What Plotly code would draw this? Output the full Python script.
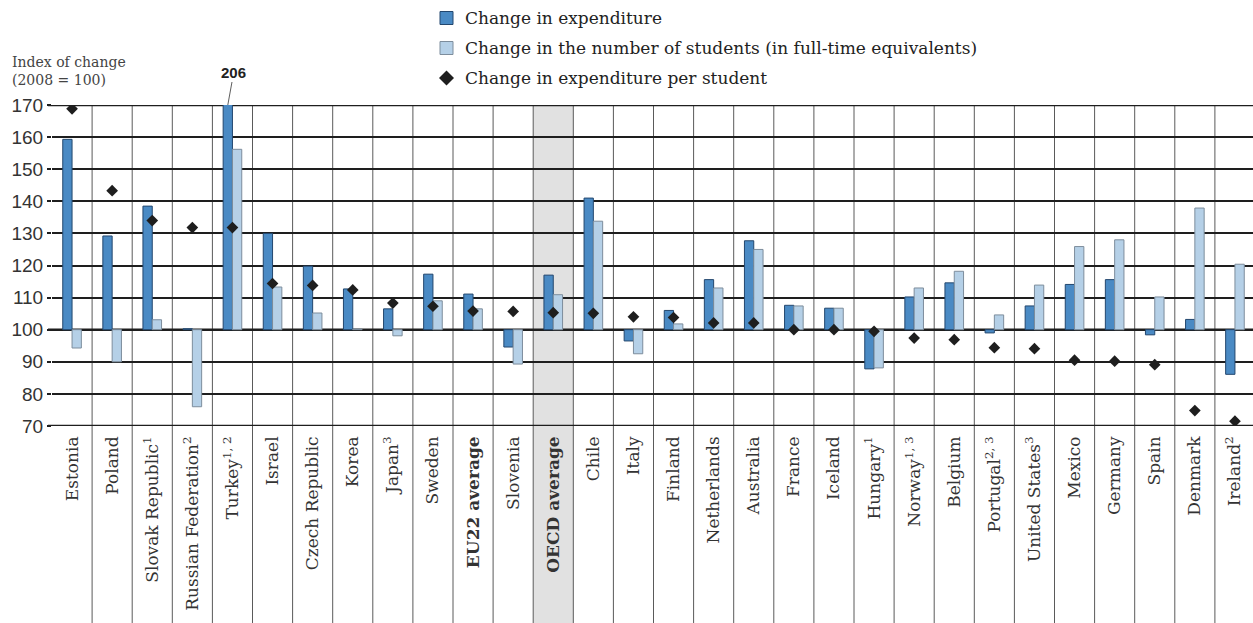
import plotly.graph_objects as go

# Countries / aggregates on the horizontal axis
countries = [
    "Estonia", "Poland", "Slovak Republic<sup>1</sup>", "Russian Federation<sup>2</sup>",
    "Turkey<sup>1, 2</sup>", "Israel", "Czech Republic", "Korea", "Japan<sup>3</sup>",
    "Sweden", "<b>EU22 average</b>", "Slovenia", "<b>OECD average</b>", "Chile", "Italy",
    "Finland", "Netherlands", "Australia", "France", "Iceland", "Hungary<sup>1</sup>",
    "Norway<sup>1, 3</sup>", "Belgium", "Portugal<sup>2, 3</sup>", "United States<sup>3</sup>",
    "Mexico", "Germany", "Spain", "Denmark", "Ireland<sup>2</sup>",
]

# Index of change, 2008 = 100
expenditure = [159.3, 129.2, 138.5, 100.3, 206.0, 130.0, 119.8, 112.7, 106.5, 117.3,
               111.1, 94.6, 117.0, 141.0, 96.5, 106.0, 115.6, 127.7, 107.6, 106.7,
               87.8, 110.2, 114.6, 99.0, 107.4, 114.1, 115.6, 98.4, 103.2, 86.1]
students = [94.3, 90.0, 103.1, 76.0, 156.2, 113.3, 105.2, 100.2, 98.1, 109.0,
            106.5, 89.3, 110.9, 133.8, 92.5, 101.8, 113.0, 125.0, 107.4, 106.7,
            88.1, 113.0, 118.2, 104.6, 113.9, 125.9, 128.0, 110.2, 137.9, 120.4]
per_student = [168.8, 143.3, 134.0, 131.8, 131.8, 114.4, 113.8, 112.4, 108.3, 107.3,
               105.8, 105.7, 105.3, 105.1, 104.0, 103.8, 102.1, 102.1, 100.0, 100.0,
               99.5, 97.4, 96.9, 94.4, 94.1, 90.5, 90.2, 89.1, 74.8, 71.5]

y_ticks = [70, 80, 90, 100, 110, 120, 130, 140, 150, 160, 170]
BASE = 100
highlight = "<b>OECD average</b>"

legend_labels = [
    "Change in expenditure",
    "Change in the number of students (in full-time equivalents)",
    "Change in expenditure per student",
]

BLUE, BLUE_EDGE = "#4a8ac4", "#23476e"
LIGHT, LIGHT_EDGE = "#b5d0e7", "#7d8d9c"
INK = "#1e1e1e"
SERIF = "DejaVu Serif"
SANS = "Liberation Sans"

W, H = 1253, 623
ML, MR, MT, MB = 52, 0, 105, 197
PW, PH = W - ML - MR, H - MT - MB


def px(x):
    return (x - ML) / PW


def py(y):
    return (H - MB - y) / PH


xs = list(range(len(countries)))

fig = go.Figure()
fig.add_trace(go.Bar(
    x=xs, y=[v - BASE for v in expenditure], base=BASE, name=legend_labels[0],
    marker=dict(color=BLUE, line=dict(color=BLUE_EDGE, width=1)),
))
fig.add_trace(go.Bar(
    x=xs, y=[v - BASE for v in students], base=BASE, name=legend_labels[1],
    marker=dict(color=LIGHT, line=dict(color=LIGHT_EDGE, width=1)),
))
fig.add_trace(go.Scatter(
    x=xs, y=per_student, mode="markers", name=legend_labels[2],
    marker=dict(symbol="diamond", size=9, color=INK),
))

shapes = []
# shaded column for the OECD average, running down through the label area
hi = countries.index(highlight)
shapes.append(dict(type="rect", xref="x", yref="paper", x0=hi - 0.5, x1=hi + 0.5,
                   y0=py(H), y1=1, fillcolor="#e1e1e1", line=dict(width=0), layer="below"))
# thin separators between categories
for k in range(len(countries) - 1):
    shapes.append(dict(type="line", xref="x", yref="paper", x0=k + 0.5, x1=k + 0.5,
                       y0=py(H), y1=1, line=dict(color="#5a5a5a", width=1), layer="below"))
# heavier rules at the bottom, at the base value and at the top
for v in (70, 100, 170):
    shapes.append(dict(type="line", xref="paper", yref="y", x0=px(48), x1=1, y0=v, y1=v,
                       line=dict(color=INK, width=2.6), layer="between"))

# legend drawn by hand
lx = 440
rows = [18, 48, 78]
for yc, col, edge in ((rows[0], BLUE, BLUE_EDGE), (rows[1], LIGHT, LIGHT_EDGE)):
    shapes.append(dict(type="rect", xref="paper", yref="paper",
                       x0=px(lx), x1=px(lx + 13), y0=py(yc + 6.5), y1=py(yc - 6.5),
                       fillcolor=col, line=dict(color=edge, width=1)))
d = 7.5
cx, cy = lx + 6.5, rows[2]
shapes.append(dict(type="path", xref="paper", yref="paper",
                   path=f"M {px(cx - d)} {py(cy)} L {px(cx)} {py(cy - d)} "
                        f"L {px(cx + d)} {py(cy)} L {px(cx)} {py(cy + d)} Z",
                   fillcolor=INK, line=dict(width=0)))

annotations = []
for yc, txt in zip(rows, legend_labels):
    annotations.append(dict(xref="paper", yref="paper", x=px(lx + 23), y=py(yc),
                            xanchor="left", yanchor="middle", text=txt, showarrow=False,
                            font=dict(family=SERIF, size=17, color="#222")))
annotations.append(dict(xref="paper", yref="paper", x=px(10), y=py(52), xanchor="left",
                        yanchor="top", align="left", showarrow=False,
                        text="Index of change<br>(2008 = 100)",
                        font=dict(family=SERIF, size=14, color="#444")))
# value of the clipped Turkey bar
ti = 4
annotations.append(dict(xref="x", yref="y", x=ti - 0.116, y=170, text="<b>206</b>",
                        showarrow=True, arrowhead=0, arrowwidth=0.8, arrowcolor="#333",
                        ax=6, ay=-33, font=dict(family=SANS, size=15, color="#222")))

fig.update_layout(
    width=W, height=H, margin=dict(l=ML, r=MR, t=MT, b=MB, pad=0),
    paper_bgcolor="white", plot_bgcolor="white",
    barmode="group", bargap=0.536, bargroupgap=0,
    showlegend=False, shapes=shapes, annotations=annotations,
    xaxis=dict(range=[-0.5, 29.45], tickvals=xs, ticktext=countries, tickangle=-90,
               showgrid=False, zeroline=False, showline=False, ticks="",
               ticklabelstandoff=6,
               tickfont=dict(family=SERIF, size=17, color="#333")),
    yaxis=dict(range=[70, 170], tickvals=y_ticks, showgrid=True, gridcolor=INK,
               gridwidth=1.5, zeroline=False, showline=False, ticks="outside",
               ticklen=4, tickcolor=INK, tickwidth=1.5,
               tickfont=dict(family=SANS, size=19, color="#333")),
)

fig.write_html("out.html")
